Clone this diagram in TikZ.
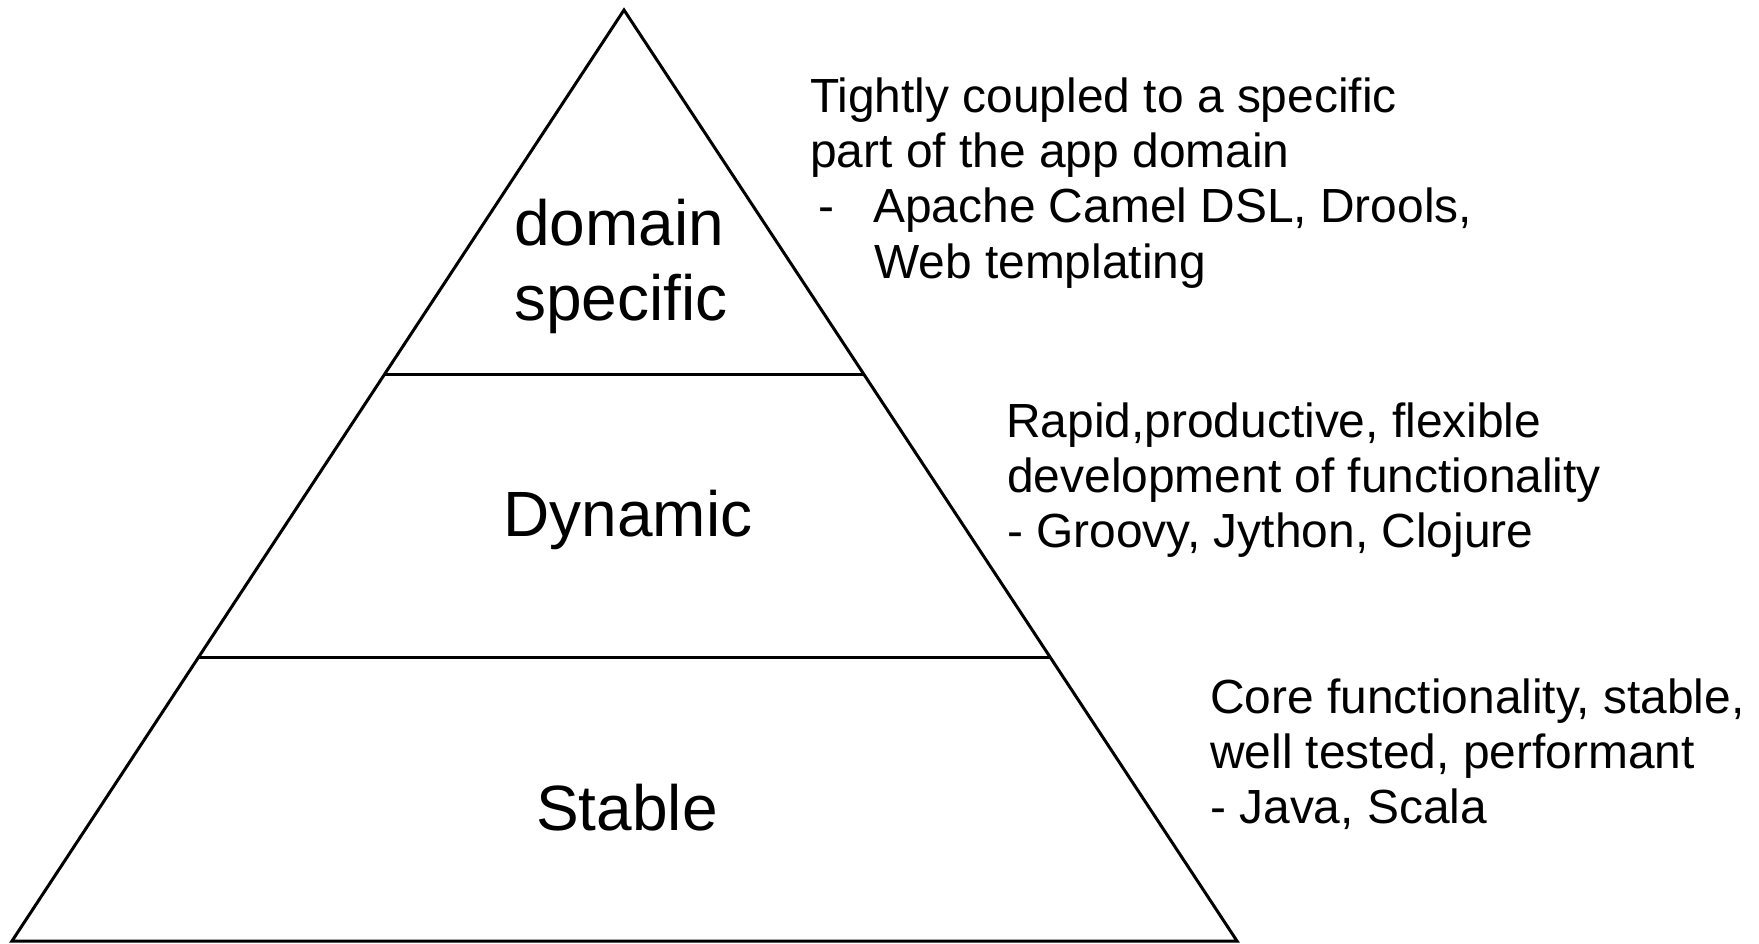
\documentclass[tikz,border=0pt]{standalone}
\usepackage{fontspec}
\setmainfont{Liberation Sans}
\usetikzlibrary{calc}
\begin{document}
\begin{tikzpicture}[x=1pt,y=-1pt,
  tier/.style={font=\fontsize{64}{74}\selectfont, inner sep=0pt, anchor=base},
  tierleft/.style={tier, anchor=base west},
  note/.style={font=\fontsize{47.9}{55}\selectfont, inner sep=0pt, anchor=base west},
  edge/.style={line width=3pt, line join=miter, line cap=butt}]
\useasboundingbox (0,0) rectangle (1759,944);

% pyramid outline
\coordinate (apex) at (624,10);
\coordinate (bl) at (12,941);
\coordinate (br) at (1237,941);
\draw[edge] (apex) -- (bl) -- (br) -- cycle;

% tier dividers
\coordinate (d1l) at ($(apex)!0.392!(bl)$);
\coordinate (d1r) at ($(apex)!0.392!(br)$);
\coordinate (d2l) at ($(apex)!0.696!(bl)$);
\coordinate (d2r) at ($(apex)!0.696!(br)$);
\draw[edge] (d1l) -- (d1r);
\draw[edge] (d2l) -- (d2r);

% tier labels
\node[tierleft] (domain) at (514,246) {domain};
\node[tierleft] (specific) at (514,320) {specific};
\node[tier] (dynamic) at (628,536) {Dynamic};
\node[tier] (stable) at (627,830) {Stable};

% notes for the top tier
\node[note] (n1a) at (810,113) {Tightly coupled to a specific};
\node[note] (n1b) at (810,168) {part of the app domain};
\node[note] (n1dash) at (818,223) {-};
\node[note] (n1c) at (873,223) {Apache Camel DSL, Drools,};
\node[note] (n1d) at (874,278) {Web templating};

% notes for the middle tier
\node[note] (n2a) at (1006,437) {Rapid,productive, flexible};
\node[note] (n2b) at (1007,492) {development of functionality};
\node[note] (n2c) at (1007,547) {- Groovy, Jython, Clojure};

% notes for the bottom tier
\node[note] (n3a) at (1210,713) {Core functionality, stable,};
\node[note] (n3b) at (1210,768) {well tested, performant};
\node[note] (n3c) at (1210,823) {- Java, Scala};
\end{tikzpicture}
\end{document}
